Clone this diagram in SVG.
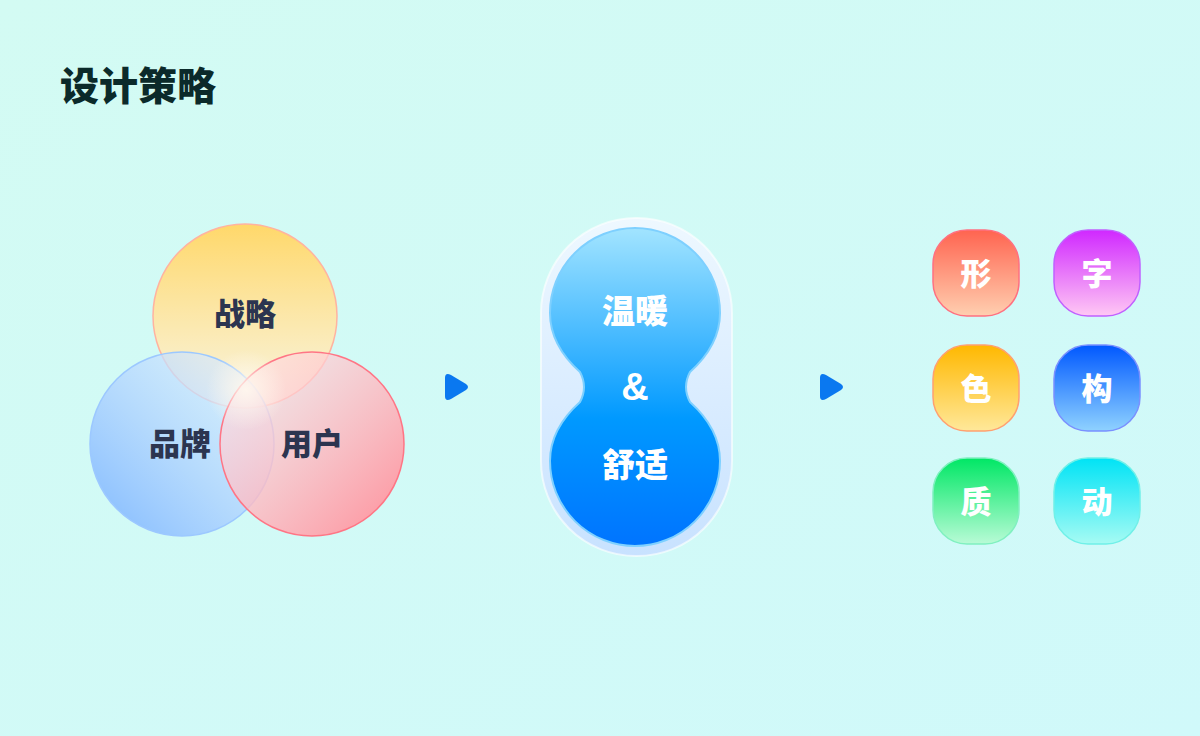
<svg xmlns="http://www.w3.org/2000/svg" width="1200" height="736" viewBox="0 0 1200 736">
<defs>
<linearGradient id="bg" x1="0" y1="0" x2="1" y2="1"><stop offset="0" stop-color="#d3fbf3"/><stop offset="1" stop-color="#d0f9fa"/></linearGradient>
<linearGradient id="gy" x1="0" y1="0" x2="0" y2="1"><stop offset="0" stop-color="#ffd86a"/><stop offset="1" stop-color="#fff3dc" stop-opacity="0.85"/></linearGradient>
<linearGradient id="gb" x1="0" y1="1" x2="1" y2="0"><stop offset="0" stop-color="#7fb8ff"/><stop offset="1" stop-color="#e6f2ff" stop-opacity="0.6"/></linearGradient>
<linearGradient id="gr" x1="1" y1="1" x2="0" y2="0"><stop offset="0" stop-color="#ff8e99"/><stop offset="1" stop-color="#ffe8ec" stop-opacity="0.6"/></linearGradient>
<radialGradient id="glow"><stop offset="0" stop-color="#fff8ee" stop-opacity="0.9"/><stop offset="1" stop-color="#fff8ee" stop-opacity="0"/></radialGradient>
<linearGradient id="pill" x1="0" y1="0" x2="0" y2="1"><stop offset="0" stop-color="#eef8ff"/><stop offset="1" stop-color="#c8e2ff"/></linearGradient>
<linearGradient id="pea" x1="0" y1="0" x2="0" y2="1"><stop offset="0" stop-color="#a2e4ff"/><stop offset="0.6" stop-color="#0099ff"/><stop offset="1" stop-color="#0074ff"/></linearGradient>
<linearGradient id="t1" x1="0" y1="0" x2="0" y2="1"><stop offset="0" stop-color="#ff6450"/><stop offset="1" stop-color="#ffcfb0"/></linearGradient>
<linearGradient id="t2" x1="0" y1="0" x2="0" y2="1"><stop offset="0" stop-color="#d028ff"/><stop offset="1" stop-color="#ffc8f4"/></linearGradient>
<linearGradient id="t3" x1="0" y1="0" x2="0" y2="1"><stop offset="0" stop-color="#ffb800"/><stop offset="1" stop-color="#ffe89a"/></linearGradient>
<linearGradient id="t4" x1="0" y1="0" x2="0" y2="1"><stop offset="0" stop-color="#0058ff"/><stop offset="1" stop-color="#8fd2ff"/></linearGradient>
<linearGradient id="t5" x1="0" y1="0" x2="0" y2="1"><stop offset="0" stop-color="#00e765"/><stop offset="1" stop-color="#b8fbd6"/></linearGradient>
<linearGradient id="t6" x1="0" y1="0" x2="0" y2="1"><stop offset="0" stop-color="#00e3f5"/><stop offset="1" stop-color="#a6fbf4"/></linearGradient>
</defs>
<style>
text{font-family:"Noto Sans CJK SC","Liberation Sans",sans-serif;font-weight:900;text-anchor:middle}
.v{font-size:31px;fill:#2c3550}
.w{font-size:33px;fill:#fff}
.tt{font-size:31px;fill:#fff}
</style>
<rect width="1200" height="736" fill="url(#bg)"/>
<text x="60" y="100" style="text-anchor:start;font-size:39px;fill:#0b2a2a">设计策略</text>
<g id="venn">
<circle cx="245" cy="316" r="92" fill="url(#gy)" stroke="#ffb3a0" stroke-width="1.5"/>
<circle cx="182" cy="444" r="92" fill="url(#gb)" stroke="#9cc8ff" stroke-width="1.5"/>
<circle cx="312" cy="444" r="92" fill="url(#gr)" stroke="#ff7585" stroke-width="1.5"/>
<circle cx="246" cy="390" r="40" fill="url(#glow)"/>
<text class="v" x="245" y="325">战略</text>
<text class="v" x="180" y="455">品牌</text>
<text class="v" x="312" y="455">用户</text>
</g>
<g id="connectors" fill="#0a78f0">
<path d="M445,378 Q445,372 451,375 L466,384 Q470,387 466,390 L451,399 Q445,402 445,396 Z"/>
<path d="M820,378 Q820,372 826,375 L841,384 Q845,387 841,390 L826,399 Q820,402 820,396 Z"/>
</g>
<g id="core">
<rect x="541" y="218" width="191" height="338" rx="95" fill="url(#pill)" stroke="#ffffff" stroke-opacity="0.6" stroke-width="2"/>
<path d="M580,372 Q550,345 550,313 A85 85 0 0 1 720 313 Q720 345 690 372 Q682 387 690 402 Q720 429 720 461 A85 85 0 0 1 550 461 Q550 429 580 402 Q588 387 580 372 Z" fill="url(#pea)" stroke="#7ed0ff" stroke-width="2"/>
<text class="w" x="635" y="323">温暖</text>
<text class="w" x="635" y="400" style="font-family:'Liberation Sans',sans-serif;font-size:38px">&amp;</text>
<text class="w" x="635" y="477">舒适</text>
</g>
<g id="tiles">
<rect x="933" y="230" width="86" height="86" rx="34" fill="url(#t1)" stroke="#ff7080" stroke-width="1.5"/>
<text class="tt" x="976" y="285">形</text>
<rect x="1054" y="230" width="86" height="86" rx="34" fill="url(#t2)" stroke="#c060ff" stroke-width="1.5"/>
<text class="tt" x="1097" y="285">字</text>
<rect x="933" y="345" width="86" height="86" rx="34" fill="url(#t3)" stroke="#ffa070" stroke-width="1.5"/>
<text class="tt" x="976" y="400">色</text>
<rect x="1054" y="345" width="86" height="86" rx="34" fill="url(#t4)" stroke="#7a90ff" stroke-width="1.5"/>
<text class="tt" x="1097" y="400">构</text>
<rect x="933" y="458" width="86" height="86" rx="34" fill="url(#t5)" stroke="#80f0c0" stroke-width="1.5"/>
<text class="tt" x="976" y="513">质</text>
<rect x="1054" y="458" width="86" height="86" rx="34" fill="url(#t6)" stroke="#70f0e8" stroke-width="1.5"/>
<text class="tt" x="1097" y="513">动</text>
</g>
</svg>
